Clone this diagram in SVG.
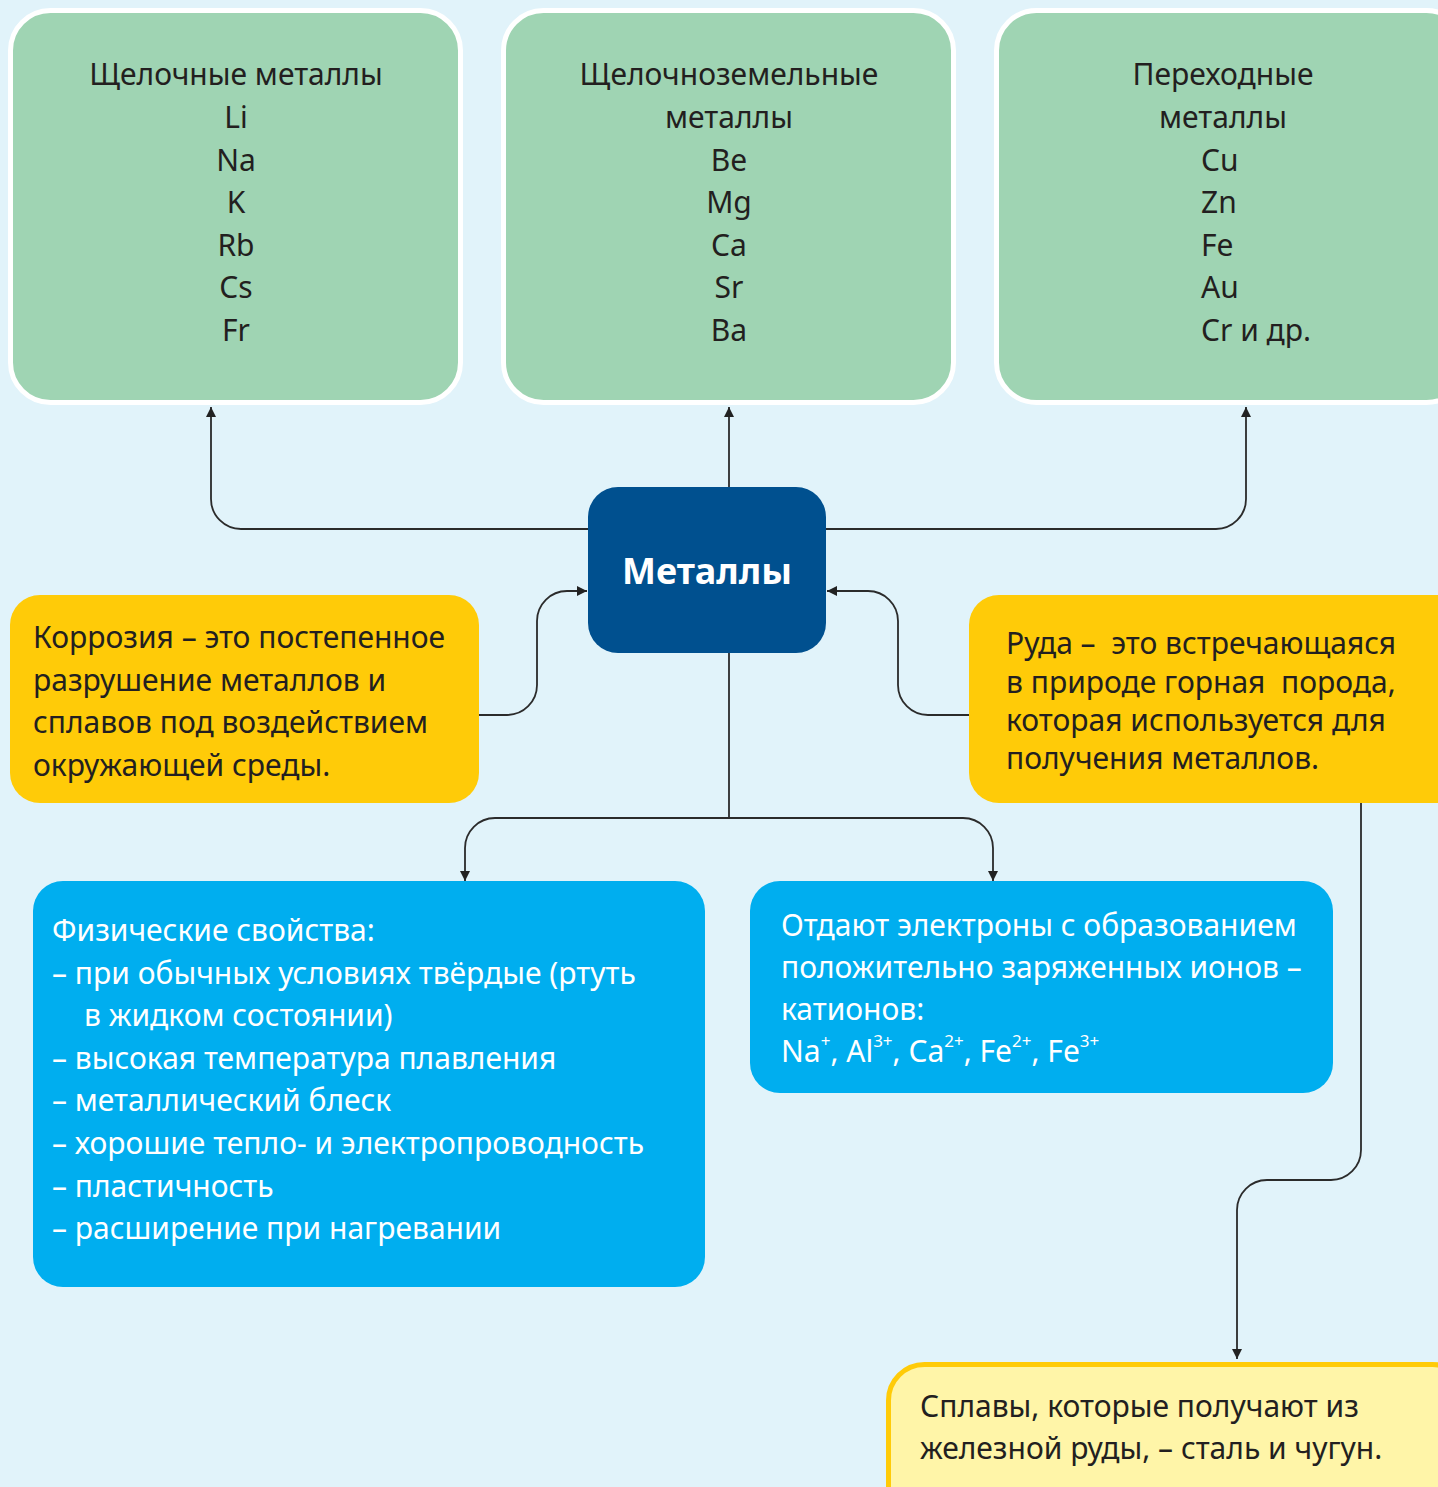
<svg xmlns="http://www.w3.org/2000/svg" width="1438" height="1487" viewBox="0 0 1438 1487">
<defs>
<marker id="ah" viewBox="0 0 10 10" refX="10" refY="5" markerWidth="10" markerHeight="10" markerUnits="userSpaceOnUse" orient="auto">
<path d="M0,0 L10,5 L0,10 z" fill="#222"/>
</marker>
</defs>
<style>
text{font-family:"Noto Sans","Open Sans","DejaVu Sans",sans-serif;font-size:30px;white-space:pre;}
.dk{fill:#231f20;}
.wh{fill:#ffffff;}
.c{text-anchor:middle;}
.sup{font-size:17px;}
.green{fill:#9fd4b3;stroke:#ffffff;stroke-width:5;}
.yel{fill:#ffcb08;}
.blue{fill:#00aeef;}
.conn{fill:none;stroke:#2b2b2b;stroke-width:1.8;}
</style>
<rect width="1438" height="1487" fill="#e1f3fa"/>
<g id="connectors">
<path class="conn" d="M588,529 H241 A30,30 0 0 1 211,499 V407" marker-end="url(#ah)"/>
<path class="conn" d="M729,487 V407" marker-end="url(#ah)"/>
<path class="conn" d="M826,529 H1216 A30,30 0 0 0 1246,499 V407" marker-end="url(#ah)"/>
<path class="conn" d="M479,715 H507 A30,30 0 0 0 537,685 V621 A30,30 0 0 1 567,591 H587" marker-end="url(#ah)"/>
<path class="conn" d="M969,715 H928 A30,30 0 0 1 898,685 V621 A30,30 0 0 0 868,591 H827" marker-end="url(#ah)"/>
<path class="conn" d="M729,653 V818"/>
<path class="conn" d="M729,818 H495 A30,30 0 0 0 465,848 V881" marker-end="url(#ah)"/>
<path class="conn" d="M729,818 H963 A30,30 0 0 1 993,848 V881" marker-end="url(#ah)"/>
<path class="conn" d="M1361,803 V1150 A30,30 0 0 1 1331,1180 H1267 A30,30 0 0 0 1237,1210 V1359" marker-end="url(#ah)"/>
</g>
<g id="alkali">
<rect class="green" x="10.5" y="10.5" width="450" height="392" rx="40"/>
<text class="dk c" x="236" y="85">Щелочные металлы</text>
<text class="dk c" x="236" y="128">Li</text>
<text class="dk c" x="236" y="171">Na</text>
<text class="dk c" x="236" y="213">K</text>
<text class="dk c" x="236" y="256">Rb</text>
<text class="dk c" x="236" y="298">Cs</text>
<text class="dk c" x="236" y="341">Fr</text>
</g>
<g id="alkaline-earth">
<rect class="green" x="503.5" y="10.5" width="450" height="392" rx="40"/>
<text class="dk c" x="729" y="85">Щелочноземельные</text>
<text class="dk c" x="729" y="128">металлы</text>
<text class="dk c" x="729" y="171">Be</text>
<text class="dk c" x="729" y="213">Mg</text>
<text class="dk c" x="729" y="256">Ca</text>
<text class="dk c" x="729" y="298">Sr</text>
<text class="dk c" x="729" y="341">Ba</text>
</g>
<g id="transition">
<rect class="green" x="996.5" y="10.5" width="470" height="392" rx="40"/>
<text class="dk c" x="1223" y="85">Переходные</text>
<text class="dk c" x="1223" y="128">металлы</text>
<text class="dk" x="1201" y="171">Cu</text>
<text class="dk" x="1201" y="213">Zn</text>
<text class="dk" x="1201" y="256">Fe</text>
<text class="dk" x="1201" y="298">Au</text>
<text class="dk" x="1201" y="341">Cr и др.</text>
</g>
<g id="metals">
<rect x="588" y="487" width="238" height="166" rx="30" fill="#00508f"/>
<text class="wh c" x="707" y="584" style="font-size:36px;font-weight:bold;">Металлы</text>
</g>
<g id="corrosion">
<rect class="yel" x="10" y="595" width="469" height="208" rx="30"/>
<text class="dk" x="33" y="648">Коррозия – это постепенное</text>
<text class="dk" x="33" y="691">разрушение металлов и</text>
<text class="dk" x="33" y="733">сплавов под воздействием</text>
<text class="dk" x="33" y="776">окружающей среды.</text>
</g>
<g id="ore">
<rect class="yel" x="969" y="595" width="500" height="208" rx="30"/>
<text class="dk" x="1006" y="654">Руда –  это встречающаяся</text>
<text class="dk" x="1006" y="693">в природе горная  порода,</text>
<text class="dk" x="1006" y="731">которая используется для</text>
<text class="dk" x="1006" y="769">получения металлов.</text>
</g>
<g id="physical">
<rect class="blue" x="33" y="881" width="672" height="406" rx="30"/>
<text class="wh" x="52" y="941">Физические свойства:</text>
<text class="wh" x="52" y="984">– при обычных условиях твёрдые (ртуть</text>
<text class="wh" x="84" y="1026">в жидком состоянии)</text>
<text class="wh" x="52" y="1069">– высокая температура плавления</text>
<text class="wh" x="52" y="1111">– металлический блеск</text>
<text class="wh" x="52" y="1154">– хорошие тепло- и электропроводность</text>
<text class="wh" x="52" y="1197">– пластичность</text>
<text class="wh" x="52" y="1239">– расширение при нагревании</text>
</g>
<g id="electrons">
<rect class="blue" x="750" y="881" width="583" height="212" rx="30"/>
<text class="wh" x="781" y="936">Отдают электроны с образованием</text>
<text class="wh" x="781" y="978">положительно заряженных ионов –</text>
<text class="wh" x="781" y="1020">катионов:</text>
<text class="wh" x="781" y="1062">Na<tspan class="sup" dy="-15">+</tspan><tspan dy="15">, Al</tspan><tspan class="sup" dy="-15">3+</tspan><tspan dy="15">, Ca</tspan><tspan class="sup" dy="-15">2+</tspan><tspan dy="15">, Fe</tspan><tspan class="sup" dy="-15">2+</tspan><tspan dy="15">, Fe</tspan><tspan class="sup" dy="-15">3+</tspan></text>
</g>
<g id="alloys">
<rect x="888.5" y="1364.5" width="580" height="160" rx="36" fill="#fff5a8" stroke="#ffcb08" stroke-width="5"/>
<text class="dk" x="920" y="1417">Сплавы, которые получают из</text>
<text class="dk" x="920" y="1459">железной руды, – сталь и чугун.</text>
</g>
</svg>
